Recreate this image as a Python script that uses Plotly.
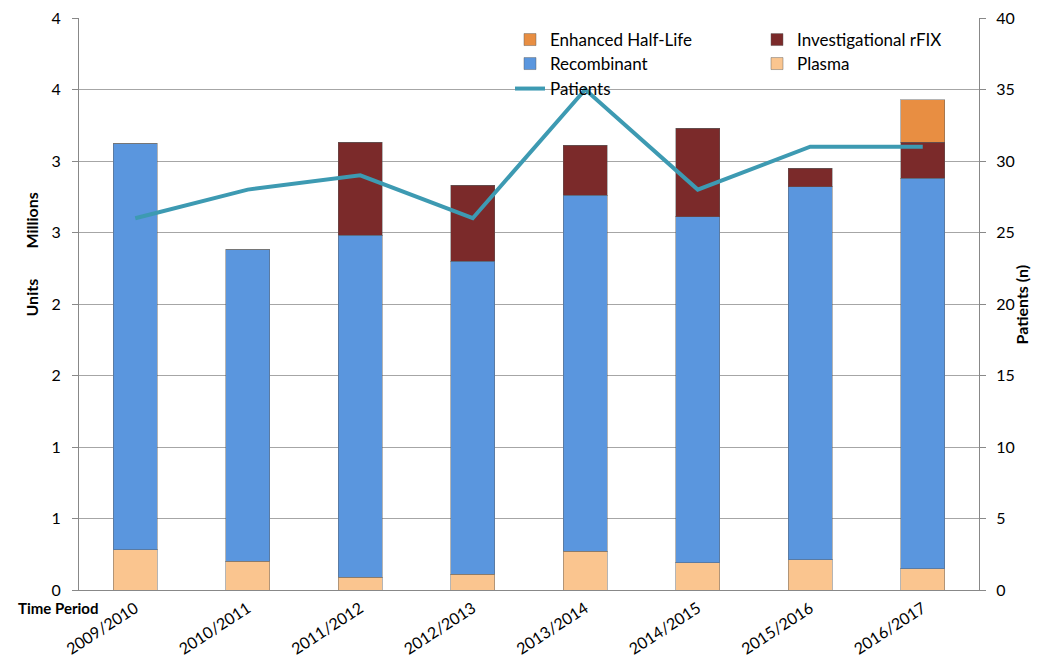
import plotly.graph_objects as go

categories = ["2009/2010", "2010/2011", "2011/2012", "2012/2013",
              "2013/2014", "2014/2015", "2015/2016", "2016/2017"]
# Units in millions
plasma = [0.28, 0.20, 0.09, 0.11, 0.27, 0.19, 0.21, 0.15]
recombinant = [2.84, 2.18, 2.39, 2.19, 2.49, 2.42, 2.61, 2.73]
investigational = [0, 0, 0.65, 0.53, 0.35, 0.62, 0.13, 0.25]
enhanced = [0, 0, 0, 0, 0, 0, 0, 0.30]
patients = [26, 28, 29, 26, 35, 28, 31, 31]

left_tickvals = [0, 0.5, 1, 1.5, 2, 2.5, 3, 3.5, 4]
left_ticktext = ["0", "1", "1", "2", "2", "3", "3", "4", "4"]
right_tickvals = [0, 5, 10, 15, 20, 25, 30, 35, 40]

FONT = "Lato"
W, H = 1046, 661
ML, MR, MT, MB = 79, 67, 18, 71
PW = W - ML - MR
PH = H - MT - MB


def px2x(px):
    return (px - ML) / PW


def px2y(py):
    return (H - MB - py) / PH


fig = go.Figure()
bar_line = dict(color="rgba(90,90,90,0.45)", width=1)
fig.add_trace(go.Bar(x=categories, y=plasma, name="Plasma",
                     marker=dict(color="#FAC58F", line=bar_line),
                     legend="legend4"))
fig.add_trace(go.Bar(x=categories, y=recombinant, name="Recombinant",
                     marker=dict(color="#5A96DE", line=bar_line),
                     legend="legend3"))
fig.add_trace(go.Bar(x=categories, y=investigational, name="Investigational rFIX",
                     marker=dict(color="#7B2A2A", line=bar_line),
                     legend="legend2"))
fig.add_trace(go.Bar(x=categories, y=enhanced, name="Enhanced Half-Life",
                     marker=dict(color="#E88E42", line=bar_line),
                     legend="legend", showlegend=True))
fig.add_trace(go.Scatter(x=categories, y=patients, name="Patients", yaxis="y2",
                         mode="lines", line=dict(color="#3D9AB2", width=4),
                         legend="legend5"))

leg_common = dict(bgcolor="rgba(0,0,0,0)", font=dict(family=FONT, size=17, color="#000"),
                  xanchor="left", yanchor="middle", borderwidth=0)
col1 = px2x(510)
col2 = px2x(757)

fig.update_layout(
    width=W, height=H,
    showlegend=True,
    margin=dict(l=ML, r=MR, t=MT, b=MB, autoexpand=False),
    paper_bgcolor="white", plot_bgcolor="white",
    barmode="stack", bargap=0.61,
    font=dict(family=FONT, size=15, color="#000"),
    xaxis=dict(showgrid=False, tickangle=-33, ticks="", automargin=False,
               showline=True, linecolor="#888888", linewidth=1,
               tickfont=dict(family=FONT, size=16), ticklabelstandoff=2),
    yaxis=dict(range=[0, 4], tickvals=left_tickvals, ticktext=left_ticktext,
               automargin=False, ticklabelstandoff=8,
               showgrid=True, gridcolor="#A6A6A6", gridwidth=1,
               showline=True, linecolor="#888888", linewidth=1,
               ticks="outside", ticklen=6, tickcolor="#888888",
               tickfont=dict(family=FONT, size=16), zeroline=False),
    yaxis2=dict(range=[0, 40], tickvals=right_tickvals, overlaying="y", side="right",
                automargin=False, ticklabelstandoff=7,
                showgrid=False, showline=True, linecolor="#888888", linewidth=1,
                ticks="outside", ticklen=6, tickcolor="#888888",
                tickfont=dict(family=FONT, size=16), zeroline=False),
    legend=dict(x=col1, y=px2y(40), **leg_common),
    legend2=dict(x=col2, y=px2y(40), **leg_common),
    legend3=dict(x=col1, y=px2y(64), **leg_common),
    legend4=dict(x=col2, y=px2y(64), **leg_common),
    legend5=dict(x=col1, y=px2y(89), **leg_common),
    annotations=[
        dict(text="<b>Units</b>", xref="paper", yref="paper", x=px2x(19), y=px2y(298),
             textangle=-90, showarrow=False, font=dict(family=FONT, size=16)),
        dict(text="<b>Millions</b>", xref="paper", yref="paper", x=px2x(19), y=px2y(221),
             textangle=-90, showarrow=False, font=dict(family=FONT, size=16)),
        dict(text="<b>Patients (n)</b>", xref="paper", yref="paper", x=px2x(1032), y=px2y(305),
             textangle=-90, showarrow=False, font=dict(family=FONT, size=16)),
        dict(text="<b>Time Period</b>", xref="paper", yref="paper", x=px2x(16), y=px2y(608),
             xanchor="left", yanchor="middle", showarrow=False, font=dict(family=FONT, size=15)),
    ],
)

fig.write_html("out.html")
